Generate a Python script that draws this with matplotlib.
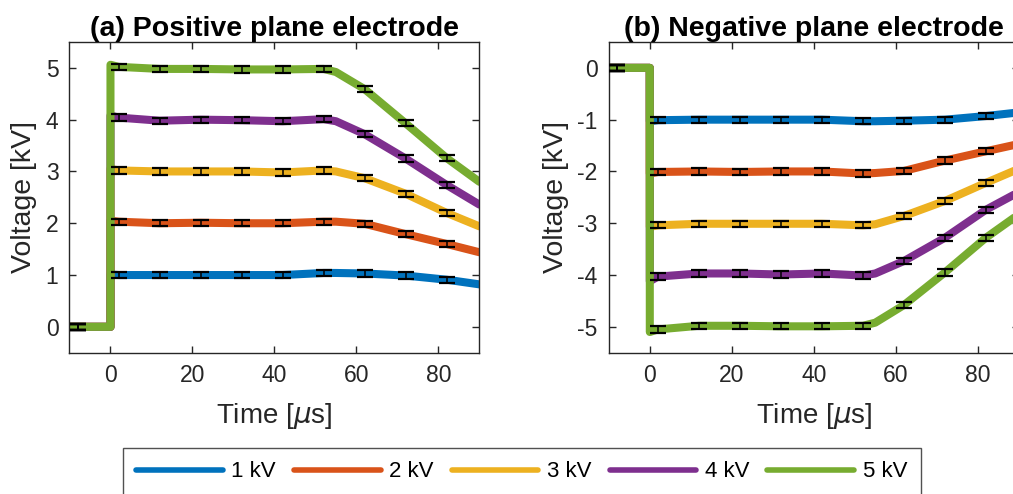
import numpy as np
import matplotlib
matplotlib.use("Agg")
import matplotlib.pyplot as plt

plt.rcParams['font.family'] = ['Liberation Sans', 'DejaVu Sans']
plt.rcParams['mathtext.fontset'] = 'dejavusans'

# ── data ──────────────────────────────────────────────────────────────────────
labels = ["1 kV", "2 kV", "3 kV", "4 kV", "5 kV"]
colors = ["#0072BD", "#D95319", "#EDB120", "#7E2F8E", "#77AC30"]

t = [-10, 0, 0, 2, 12, 22, 32, 42, 52, 55, 62, 72, 82, 90]

pos_1kV = [0, 0, 1.01, 1.00, 1.00, 1.00, 1.00, 1.00, 1.04, 1.04, 1.03, 0.99, 0.91, 0.82]
pos_2kV = [0, 0, 2.05, 2.03, 2.00, 2.01, 2.00, 2.00, 2.03, 2.03, 1.99, 1.79, 1.60, 1.44]
pos_3kV = [0, 0, 3.05, 3.02, 3.00, 3.00, 3.00, 2.98, 3.02, 3.00, 2.87, 2.57, 2.20, 1.94]
pos_4kV = [0, 0, 4.08, 4.04, 3.98, 4.00, 3.99, 3.97, 4.01, 3.97, 3.72, 3.25, 2.74, 2.36]
pos_5kV = [0, 0, 5.06, 5.02, 4.98, 4.98, 4.97, 4.97, 4.98, 4.92, 4.59, 3.93, 3.26, 2.80]

neg_1kV = [0, 0, -1.03, -1.01, -1.00, -1.00, -1.00, -1.00, -1.03, -1.03, -1.02, -1.00, -0.93, -0.86]
neg_2kV = [0, 0, -2.04, -2.01, -2.00, -2.01, -2.00, -2.00, -2.04, -2.03, -1.99, -1.79, -1.61, -1.47]
neg_3kV = [0, 0, -3.07, -3.04, -3.01, -3.01, -3.01, -3.01, -3.04, -3.02, -2.86, -2.57, -2.22, -1.95]
neg_4kV = [0, 0, -4.12, -4.03, -3.97, -3.97, -3.99, -3.97, -4.01, -3.97, -3.73, -3.28, -2.74, -2.40]
neg_5kV = [0, 0, -5.10, -5.05, -4.98, -4.98, -4.99, -4.99, -4.98, -4.92, -4.58, -3.95, -3.28, -2.83]

# error bar sample points (index into t) and half-widths
eb_idx = [3, 4, 5, 6, 7, 8, 10, 11, 12]
eb_pre_t = -8
eb_err = 0.06

pos_series = [pos_1kV, pos_2kV, pos_3kV, pos_4kV, pos_5kV]
neg_series = [neg_1kV, neg_2kV, neg_3kV, neg_4kV, neg_5kV]

# ── figure ────────────────────────────────────────────────────────────────────
fig = plt.figure(figsize=(10.13, 4.94), dpi=100)
ax1 = fig.add_axes([0.0686, 0.286, 0.4046, 0.629])
ax2 = fig.add_axes([0.601, 0.286, 0.4046, 0.629])

def draw_panel(ax, series, title, ylim, yticks, yticklabels):
    for vals, c, lab in zip(series, colors, labels):
        ax.plot(t, vals, color=c, lw=5.8, label=lab, solid_capstyle='round',
                solid_joinstyle='round', zorder=2)
    for vals in series:
        ex = [eb_pre_t] + [t[i] for i in eb_idx]
        ey = [0] + [vals[i] for i in eb_idx]
        ax.errorbar(ex, ey, yerr=eb_err, fmt='none', ecolor='black',
                    elinewidth=1.1, capsize=6, capthick=1.6, zorder=3)
    ax.set_xlim(-10, 90)
    ax.set_ylim(*ylim)
    ax.set_xticks([0, 20, 40, 60, 80])
    ax.set_yticks(yticks)
    ax.set_yticklabels(yticklabels)
    ax.tick_params(direction='in', top=True, right=True, length=5, width=1,
                   color='#262626', labelsize=16.5, labelcolor='#262626', pad=8)
    for s in ax.spines.values():
        s.set_color('#262626')
        s.set_linewidth(1.0)
    ax.set_xlabel('Time [$\\mu$s]', fontsize=20, color='#262626', labelpad=10)
    ax.set_title(title, fontsize=20.5, fontweight='bold', pad=4)

draw_panel(ax1, pos_series, '(a) Positive plane electrode', (-0.5, 5.5),
           [0, 1, 2, 3, 4, 5], ['0', '1', '2', '3', '4', '5'])
draw_panel(ax2, neg_series, '(b) Negative plane electrode', (-5.5, 0.5),
           [-5, -4, -3, -2, -1, 0], ['-5', '-4', '-3', '-2', '-1', '0'])

ax1.set_ylabel('Voltage [kV]', fontsize=20.5, color='#262626', labelpad=6)
ax2.set_ylabel('Voltage [kV]', fontsize=20.5, color='#262626', labelpad=6)

handles, labs = ax1.get_legend_handles_labels()
leg = fig.legend(handles, labs, loc='upper center', bbox_to_anchor=(0.515, 0.093),
                 ncol=5, fontsize=16, handlelength=3.9, columnspacing=0.8,
                 handletextpad=0.4, frameon=True, fancybox=False,
                 borderpad=0.6, borderaxespad=0)
leg.get_frame().set_edgecolor('#262626')
leg.get_frame().set_linewidth(1.0)
for line in leg.get_lines():
    line.set_linewidth(4)

fig.savefig('out.png', dpi=100)
